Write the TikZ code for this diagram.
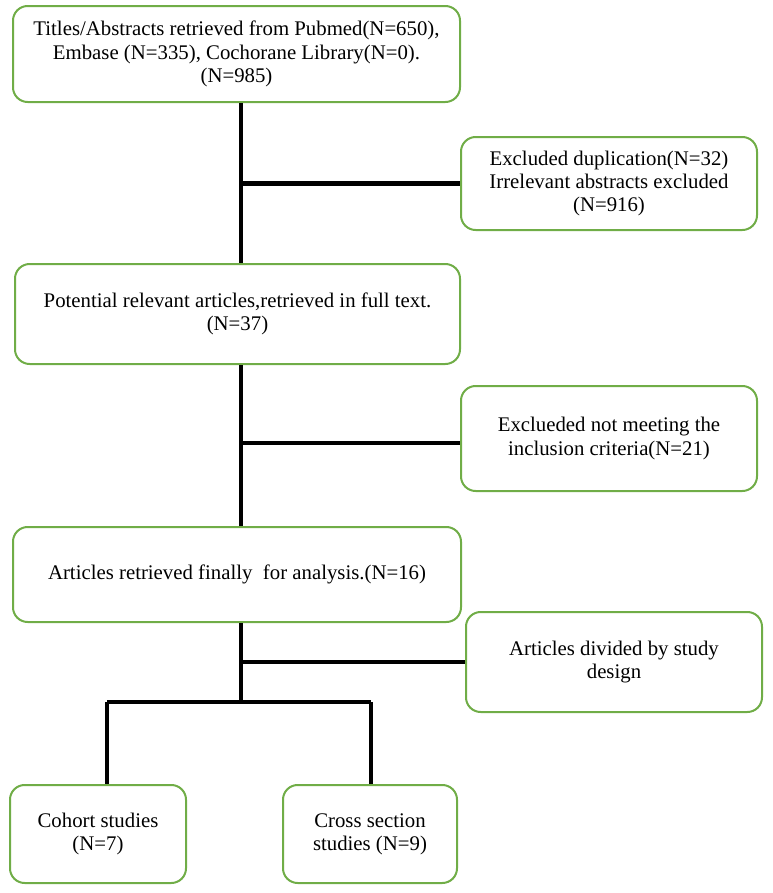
\documentclass[tikz,border=0pt]{standalone}
\usepackage{fontspec}
\setmainfont{Liberation Serif}
\definecolor{boxgreen}{HTML}{70AD47}
\begin{document}
\begin{tikzpicture}[x=0.75pt,y=-0.75pt,
  fbox/.style={draw=boxgreen,line width=1.5pt,rounded corners=11pt,fill=white,
    align=center,font=\fontsize{15.6}{17.4}\selectfont,inner sep=0pt},
  conn/.style={line width=3.2pt,black}]
\useasboundingbox (0,0) rectangle (772,893);
\node[fbox,minimum width=447*0.75pt,minimum height=96*0.75pt] (b1) at (236.5,54)
  {Titles/Abstracts retrieved from Pubmed(N=650),\\Embase (N=335), Cochorane Library(N=0).\\(N=985)};
\node[fbox,minimum width=296*0.75pt,minimum height=93*0.75pt] (b2) at (609,183.5)
  {Excluded duplication(N=32)\\Irrelevant abstracts excluded\\(N=916)};
\node[fbox,minimum width=445*0.75pt,minimum height=100*0.75pt] (b3) at (237.5,314)
  {Potential relevant articles,retrieved in full text.\\(N=37)};
\node[fbox,minimum width=296*0.75pt,minimum height=105*0.75pt] (b4) at (609,438.5)
  {Exclueded not meeting the\\inclusion criteria(N=21)};
\node[fbox,minimum width=448*0.75pt,minimum height=95*0.75pt] (b5) at (237,574.5)
  {Articles retrieved finally\ \ for analysis.(N=16)};
\node[fbox,minimum width=296*0.75pt,minimum height=100*0.75pt] (b6) at (614,662)
  {Articles divided by study\\design};
\node[fbox,minimum width=176*0.75pt,minimum height=98*0.75pt] (b7) at (98,834)
  {Cohort studies\\(N=7)};
\node[fbox,minimum width=174*0.75pt,minimum height=98*0.75pt] (b8) at (370,834)
  {Cross section\\studies (N=9)};
\coordinate (sp) at (241,0);
\coordinate (barL) at (107,702);
\coordinate (barR) at (371,702);
\coordinate (barM) at (241,702);
\draw[conn] (b1.south -| sp) -- (b3.north -| sp);
\draw[conn] (b2.west -| sp) -- (b2.west);
\draw[conn] (b3.south -| sp) -- (b5.north -| sp);
\draw[conn] ([yshift=-3.5pt]b4.west -| sp) -- ([yshift=-3.5pt]b4.west);
\draw[conn] (b5.south -| sp) -- (barM);
\draw[conn] (b6.west -| sp) -- (b6.west);
\draw[conn] (barL) -- (barR);
\draw[conn] (barL) -- (b7.north -| barL);
\draw[conn] (barR) -- (b8.north -| barR);
\end{tikzpicture}
\end{document}
